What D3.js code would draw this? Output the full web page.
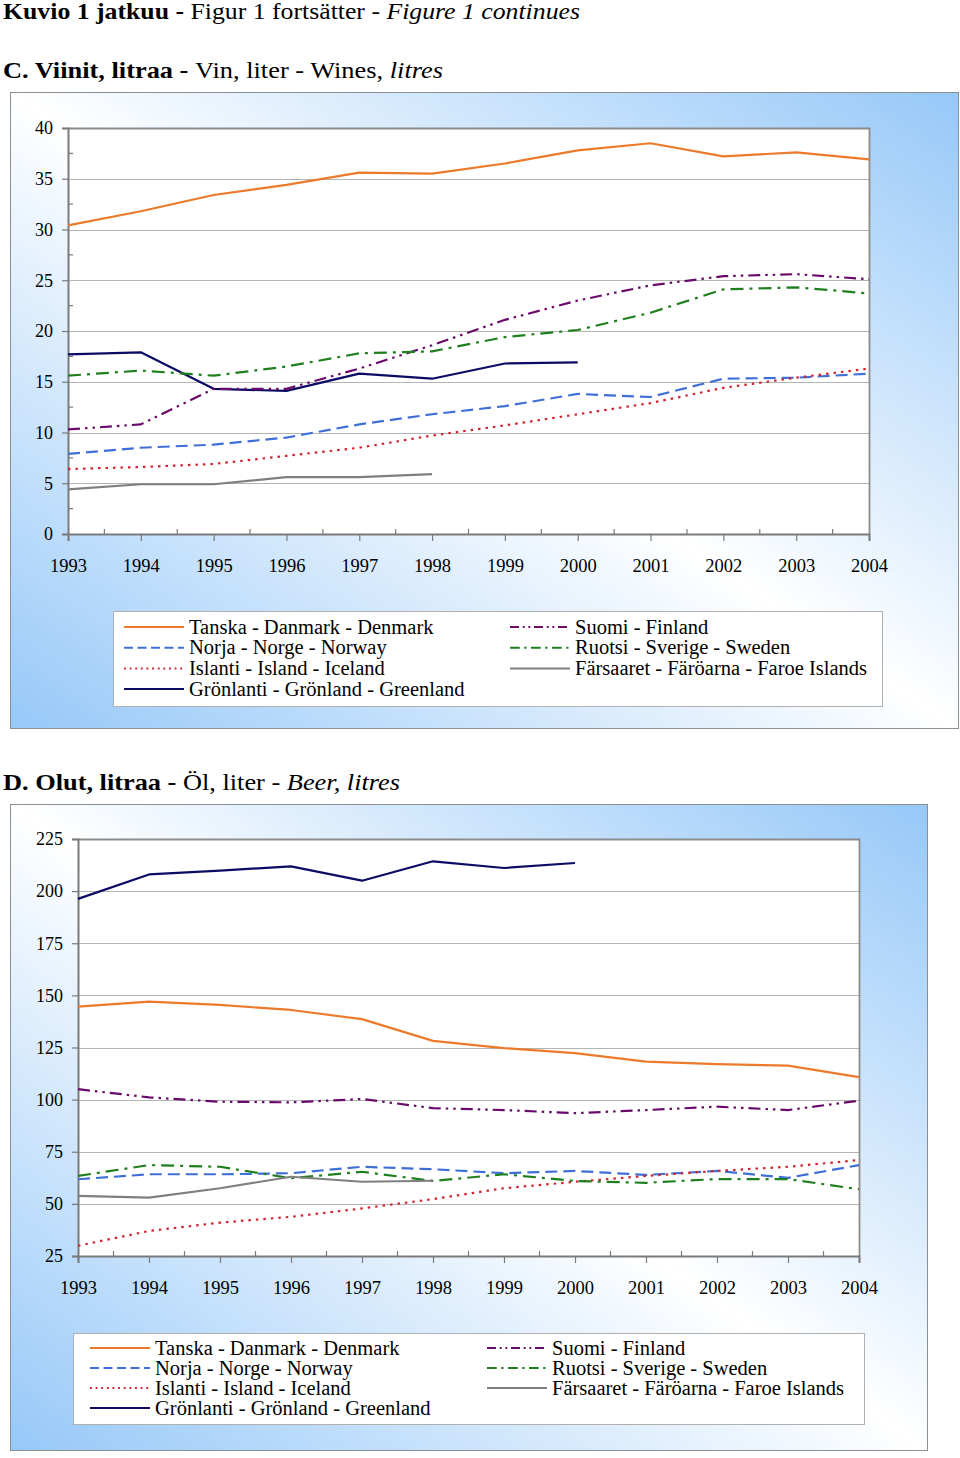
<!DOCTYPE html>
<html>
<head>
<meta charset="utf-8">
<script src="https://cdn.jsdelivr.net/npm/d3@7"></script>
<style>
  html, body { margin: 0; padding: 0; background: #ffffff; }
  svg { display: block; font-family: "Liberation Serif", "Times New Roman", serif; }
</style>
</head>
<body>
<svg id="chart" width="960" height="1458"></svg>
<script>
// ---------- DATA ----------
const years = ["1993","1994","1995","1996","1997","1998","1999","2000","2001","2002","2003","2004"];

const seriesNames = [
  "Tanska - Danmark - Denmark",
  "Norja - Norge - Norway",
  "Islanti - Island - Iceland",
  "Grönlanti - Grönland - Greenland",
  "Suomi - Finland",
  "Ruotsi - Sverige - Sweden",
  "Färsaaret - Färöarna - Faroe Islands"
];

// C. Wines, litres
const wineDenmark   = [30.4, 31.8, 33.4, 34.4, 35.6, 35.5, 36.5, 37.8, 38.5, 37.2, 37.6, 36.9];
const wineNorway    = [7.9, 8.5, 8.8, 9.5, 10.8, 11.8, 12.6, 13.8, 13.5, 15.3, 15.4, 15.8];
const wineIceland   = [6.4, 6.6, 6.9, 7.7, 8.5, 9.7, 10.7, 11.8, 12.9, 14.4, 15.4, 16.3];
const wineGreenland = [17.7, 17.9, 14.3, 14.1, 15.8, 15.3, 16.8, 16.9, null, null, null, null];
const wineFinland   = [10.3, 10.8, 14.3, 14.3, 16.3, 18.6, 21.1, 23.0, 24.5, 25.4, 25.6, 25.1];
const wineSweden    = [15.6, 16.1, 15.6, 16.5, 17.8, 18.0, 19.4, 20.1, 21.8, 24.1, 24.3, 23.7];
const wineFaroe     = [4.4, 4.9, 4.9, 5.6, 5.6, 5.9, null, null, null, null, null, null];
const wineTicks     = [0, 5, 10, 15, 20, 25, 30, 35, 40];

// D. Beer, litres
const beerDenmark   = [144.6, 147.0, 145.4, 143.0, 138.6, 128.2, 124.7, 122.3, 118.2, 117.0, 116.3, 110.8];
const beerNorway    = [61.8, 64.2, 64.2, 64.7, 67.8, 66.6, 64.7, 65.8, 63.9, 65.8, 62.5, 68.6];
const beerIceland   = [29.9, 37.0, 41.0, 43.8, 47.8, 52.3, 57.5, 60.6, 63.4, 65.8, 67.8, 71.0];
const beerGreenland = [196.3, 208.0, 209.8, 211.9, 205.0, 214.3, 211.1, 213.5, null, null, null, null];
const beerFinland   = [105.0, 101.1, 99.0, 98.7, 100.3, 95.9, 95.0, 93.5, 95.0, 96.6, 95.0, 99.5];
const beerSweden    = [63.4, 68.6, 67.8, 62.3, 65.4, 61.0, 64.2, 61.0, 60.1, 61.9, 61.9, 57.0];
const beerFaroe     = [53.8, 53.0, 57.5, 63.0, 60.6, 61.1, null, null, null, null, null, null];
const beerTicks     = [25, 50, 75, 100, 125, 150, 175, 200, 225];

// ---------- STYLES ----------
const seriesStyles = [
  { color: "#ec7a2a", dash: null },
  { color: "#3f6fd6", dash: "12,6" },
  { color: "#d2232f", dash: "2.5,5" },
  { color: "#0b0b63", dash: null },
  { color: "#6a0a6a", dash: "12,5,2.5,5,2.5,5" },
  { color: "#1f7f1f", dash: "13,6,3,6" },
  { color: "#7f7f7f", dash: null }
];

const svg = d3.select("#chart");
const defs = svg.append("defs");
const grad = defs.append("linearGradient")
  .attr("id", "panelGrad")
  .attr("x1", 1).attr("y1", 0).attr("x2", 0).attr("y2", 1);
grad.append("stop").attr("offset", "0%").attr("stop-color", "#96c8f8");
grad.append("stop").attr("offset", "50%").attr("stop-color", "#ffffff");
grad.append("stop").attr("offset", "100%").attr("stop-color", "#96c8f8");

// ---------- TITLES ----------
function titleLine(y, width, parts) {
  const t = svg.append("text").attr("x", 3).attr("y", y)
    .attr("font-size", 23).attr("fill", "#000")
    .attr("textLength", width).attr("lengthAdjust", "spacingAndGlyphs");
  parts.forEach(p => {
    t.append("tspan").text(p.t)
      .attr("font-weight", p.b ? "bold" : "normal")
      .attr("font-style", p.i ? "italic" : "normal");
  });
}
titleLine(19, 577, [
  { t: "Kuvio 1 jatkuu - ", b: true },
  { t: "Figur 1 fortsätter - " },
  { t: "Figure 1 continues", i: true }
]);
titleLine(78, 440, [
  { t: "C.  Viinit, litraa - ", b: true },
  { t: "Vin, liter - Wines, " },
  { t: "litres", i: true }
]);
titleLine(790, 397, [
  { t: "D.  Olut, litraa - ", b: true },
  { t: "Öl, liter - " },
  { t: "Beer, litres", i: true }
]);

// ---------- CHART FUNCTION ----------
function drawChart(cfg) {
  const g = svg.append("g");
  // panel
  g.append("rect")
    .attr("x", cfg.panel[0] + 0.5).attr("y", cfg.panel[1] + 0.5)
    .attr("width", cfg.panel[2] - cfg.panel[0]).attr("height", cfg.panel[3] - cfg.panel[1])
    .attr("fill", "url(#panelGrad)").attr("stroke", "#8a8f96").attr("stroke-width", 1);

  const x = d3.scalePoint().domain(years).range([cfg.plot[0], cfg.plot[2]]);
  const y = d3.scaleLinear().domain([cfg.ticks[0], cfg.ticks[cfg.ticks.length - 1]])
    .range([cfg.plot[3], cfg.plot[1]]);

  // plot area
  g.append("rect")
    .attr("x", cfg.plot[0]).attr("y", cfg.plot[1])
    .attr("width", cfg.plot[2] - cfg.plot[0]).attr("height", cfg.plot[3] - cfg.plot[1])
    .attr("fill", "#ffffff");

  // gridlines
  g.append("g").selectAll("line").data(cfg.ticks.slice(1, -1)).join("line")
    .attr("x1", cfg.plot[0]).attr("x2", cfg.plot[2])
    .attr("y1", d => Math.round(y(d)) + 0.5).attr("y2", d => Math.round(y(d)) + 0.5)
    .attr("stroke", "#b4b4b4").attr("stroke-width", 1.2);

  // top & right border
  g.append("path")
    .attr("d", `M${cfg.plot[0]},${cfg.plot[1] + 0.5}H${cfg.plot[2] + 0.5}V${cfg.plot[3]}`)
    .attr("fill", "none").attr("stroke", "#8c8c8c").attr("stroke-width", 1.8);

  // Y axis
  const yAxis = d3.axisLeft(y).tickValues(cfg.ticks).tickSize(6).tickPadding(9).tickFormat(d3.format("d"));
  const ya = g.append("g").attr("transform", `translate(${cfg.plot[0]},0)`).call(yAxis);
  ya.select(".domain").attr("stroke", "#7a7a7a").attr("stroke-width", 2);
  ya.selectAll(".tick line").attr("stroke", "#7a7a7a").attr("stroke-width", 1.2);
  ya.selectAll(".tick text").attr("font-size", 18).attr("font-family", "Liberation Serif").attr("fill", "#000");
  if (cfg.yMinor) {
    const mids = cfg.ticks.slice(0, -1).map((d, i) => (d + cfg.ticks[i + 1]) / 2);
    g.append("g").selectAll("line").data(mids).join("line")
      .attr("x1", cfg.plot[0]).attr("x2", cfg.plot[0] + 5)
      .attr("y1", d => y(d)).attr("y2", d => y(d))
      .attr("stroke", "#7a7a7a").attr("stroke-width", 1.2);
  }

  // X axis
  const xAxis = d3.axisBottom(x).tickSize(7).tickPadding(18);
  const xa = g.append("g").attr("transform", `translate(0,${cfg.plot[3]})`).call(xAxis);
  xa.select(".domain").attr("stroke", "#7a7a7a").attr("stroke-width", 2);
  xa.selectAll(".tick line").attr("stroke", "#7a7a7a").attr("stroke-width", 1.2);
  xa.selectAll(".tick text").attr("font-size", 18.5).attr("font-family", "Liberation Serif").attr("fill", "#000");
  const step = x.step();
  g.append("g").selectAll("line").data(years.slice(0, -1)).join("line")
    .attr("x1", d => x(d) + step / 2).attr("x2", d => x(d) + step / 2)
    .attr("y1", cfg.plot[3]).attr("y2", cfg.plot[3] - 5)
    .attr("stroke", "#7a7a7a").attr("stroke-width", 1.2);

  // lines
  const line = d3.line()
    .defined(d => d.v !== null)
    .x(d => x(d.year)).y(d => y(d.v));
  cfg.series.forEach((vals, i) => {
    const st = seriesStyles[i];
    g.append("path")
      .datum(vals.map((v, k) => ({ year: years[k], v })))
      .attr("d", line)
      .attr("fill", "none")
      .attr("stroke", st.color)
      .attr("stroke-width", 2.2)
      .attr("stroke-dasharray", st.dash)
      .attr("stroke-linejoin", "round");
  });

  // legend
  const L = cfg.legend;
  g.append("rect")
    .attr("x", L.box[0] + 0.5).attr("y", L.box[1] + 0.5)
    .attr("width", L.box[2] - L.box[0]).attr("height", L.box[3] - L.box[1])
    .attr("fill", "#ffffff").attr("stroke", "#b0b0b0").attr("stroke-width", 1);
  seriesNames.forEach((name, i) => {
    const col = i < 4 ? 0 : 1;
    const row = i < 4 ? i : i - 4;
    const lx = L.cols[col];
    const cy = L.row0 + row * L.rowStep;
    const st = seriesStyles[i];
    g.append("line")
      .attr("x1", lx).attr("x2", lx + 60).attr("y1", cy).attr("y2", cy)
      .attr("stroke", st.color).attr("stroke-width", 2)
      .attr("stroke-dasharray", st.dash ? st.dash.split(",").map(v => v * 0.75).join(",") : null);
    g.append("text")
      .attr("x", lx + 65).attr("y", cy + 6.5)
      .attr("font-size", 20.5).attr("fill", "#000")
      .text(name);
  });
}

drawChart({
  panel: [10, 92, 958, 728],
  plot: [68, 128, 869, 534],
  ticks: wineTicks,
  yMinor: true,
  series: [wineDenmark, wineNorway, wineIceland, wineGreenland, wineFinland, wineSweden, wineFaroe],
  legend: { box: [113, 611, 882, 706], cols: [124, 510], row0: 627, rowStep: 20.7 }
});

drawChart({
  panel: [10, 804, 927, 1450],
  plot: [78, 839, 859, 1256],
  ticks: beerTicks,
  yMinor: false,
  series: [beerDenmark, beerNorway, beerIceland, beerGreenland, beerFinland, beerSweden, beerFaroe],
  legend: { box: [73, 1333, 864, 1424], cols: [90, 487], row0: 1348, rowStep: 20 }
});
</script>
</body>
</html>
